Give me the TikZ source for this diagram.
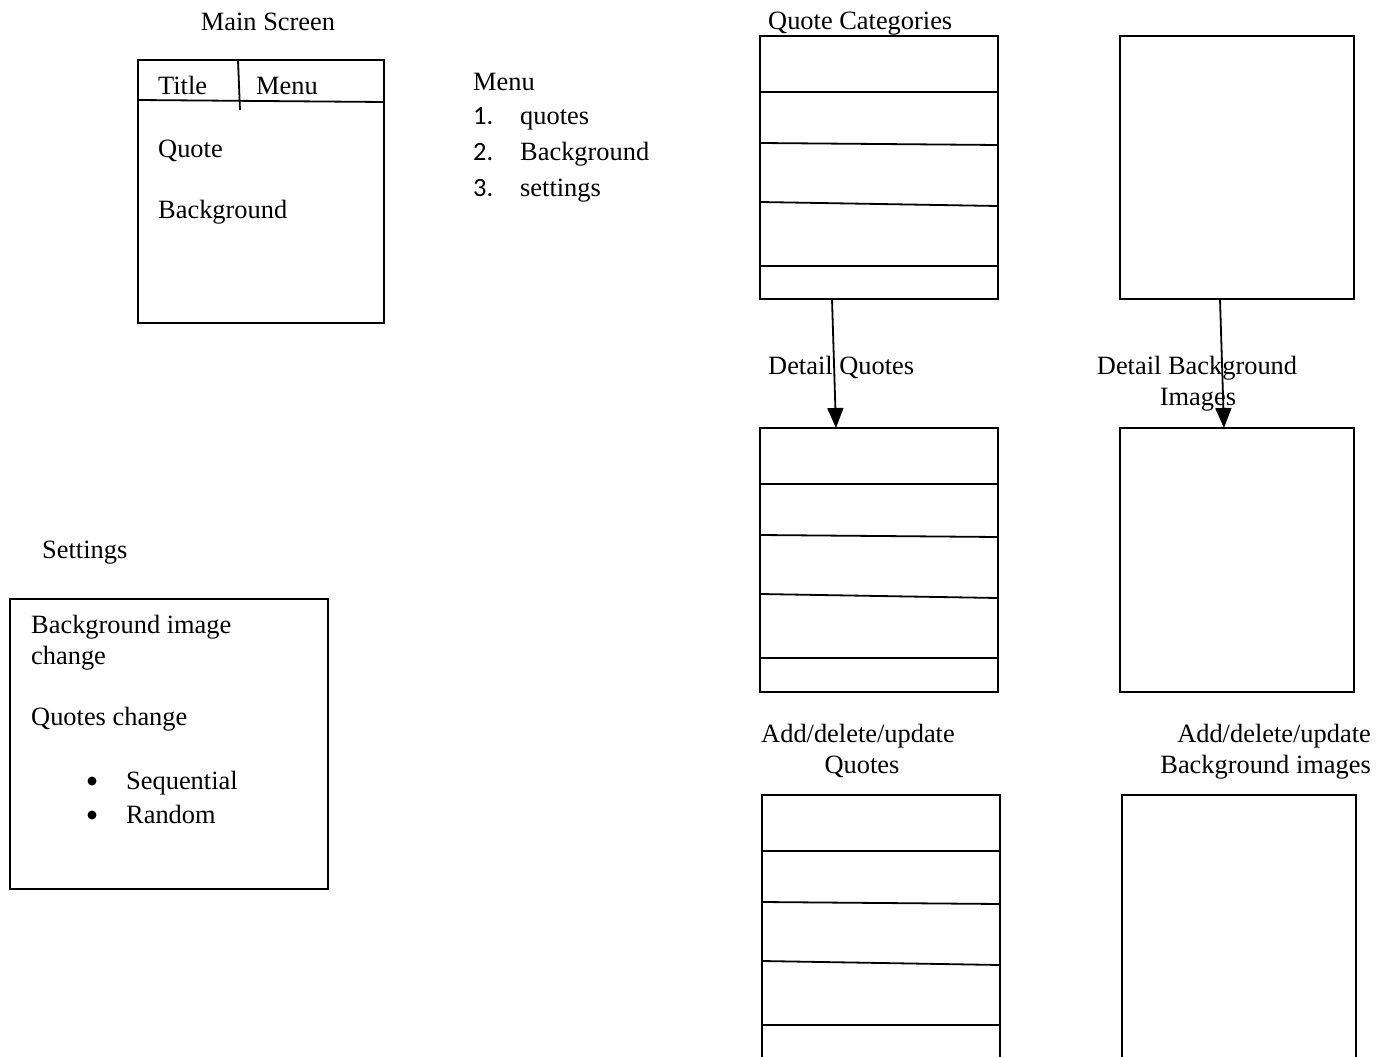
\documentclass[tikz,border=0pt]{standalone}
\usepackage{fontspec}
\setmainfont{Liberation Serif}
\newfontfamily\numfont{Carlito}
\usetikzlibrary{arrows.meta}

\tikzset{
  screen/.style={draw, line width=1.8pt, inner sep=0pt, outer sep=0pt, anchor=north west},
  txt/.style={inner sep=0pt, anchor=base west},
  ctxt/.style={inner sep=0pt, anchor=base},
  rtxt/.style={inner sep=0pt, anchor=base east},
  dotmark/.style={circle, fill, inner sep=0pt, minimum size=9pt},
  flow/.style={-{Triangle[width=16pt,length=20pt]}, line width=1.8pt},
}
% list rows inside a screen
\newcommand{\rowlines}[1]{%
  \foreach \lft/\rgt in {56/56,107/109,166/170,230/230}
    \draw[line width=1.8pt] ([yshift=-\lft pt]#1.north west) -- ([yshift=-\rgt pt]#1.north east);
}

\begin{document}
\begin{tikzpicture}[x=1pt, y=-1pt, font=\fontsize{26.4}{31}\selectfont]
  \useasboundingbox (0,0) rectangle (1387,1057);
  \clip (0,0) rectangle (1387,1057);

  % main screen
  \node[ctxt] (mainttl) at (268,31) {Main Screen};
  \node[screen, minimum width=246pt, minimum height=263pt] (main) at (138,60) {};
  \draw[line width=1.8pt] ([yshift=-40pt]main.north west) -- ([yshift=-42pt]main.north east);
  \draw[line width=1.8pt] ([xshift=100pt]main.north west) -- ++(2,50);
  \node[txt] (title) at (158,95) {Title};
  \node[txt] (menu) at (256,95) {Menu};
  \node[txt] (quote) at (158,157) {Quote};
  \node[txt] (bg) at (158,218) {Background};

  % menu list
  \node[txt] (menuttl) at (473,90) {Menu};
  \foreach \n/\y/\item in {1/124/quotes,2/160/Background,3/196/settings}{
    \node[txt] (num\n) at (473,\y) {\numfont\n.};
    \node[txt] (item\n) at (520,\y) {\item};
  }

  % settings
  \node[txt] (setttl) at (42,558) {Settings};
  \node[screen, minimum width=318pt, minimum height=290pt] (settings) at (10,599) {};
  \node[txt] (bgchange) at (31,633) {Background image};
  \node[txt] (bgchange2) at (31,664) {change};
  \node[txt] (qchange) at (31,725) {Quotes change};
  \node[dotmark] (dot1) at (92,781) {};
  \node[txt] (seq) at (126,789) {Sequential};
  \node[dotmark] (dot2) at (92,815) {};
  \node[txt] (rand) at (126,823) {Random};

  % quote categories and background images
  \node[txt] (catttl) at (768,30) {Quote Categories};
  \node[screen, minimum width=238pt, minimum height=263pt] (cat) at (760,36) {};
  \rowlines{cat}
  \node[screen, minimum width=234pt, minimum height=263pt] (imgs) at (1120,36) {};

  % details
  \node[txt] (detttl) at (768,374) {Detail Quotes};
  \node[ctxt] (bgdetttl) at (1197,374) {Detail Background};
  \node[ctxt] (bgdetttl2) at (1198,405) {Images};
  \node[screen, minimum width=238pt, minimum height=264pt] (det) at (760,428) {};
  \rowlines{det}
  \node[screen, minimum width=234pt, minimum height=264pt] (bgdet) at (1120,428) {};

  \draw[flow] ([xshift=-47pt]cat.south) -- ([xshift=-43pt]det.north);
  \draw[flow] ([xshift=-17pt]imgs.south) -- ([xshift=-13pt]bgdet.north);

  % add/delete/update
  \node[ctxt] (editttl) at (858,742) {Add/delete/update};
  \node[ctxt] (editttl2) at (862,773) {Quotes};
  \node[rtxt] (bgeditttl) at (1371,742) {Add/delete/update};
  \node[rtxt] (bgeditttl2) at (1371,773) {Background images};
  \node[screen, minimum width=238pt, minimum height=290pt] (edit) at (762,795) {};
  \rowlines{edit}
  \node[screen, minimum width=234pt, minimum height=290pt] (bgedit) at (1122,795) {};
\end{tikzpicture}
\end{document}
